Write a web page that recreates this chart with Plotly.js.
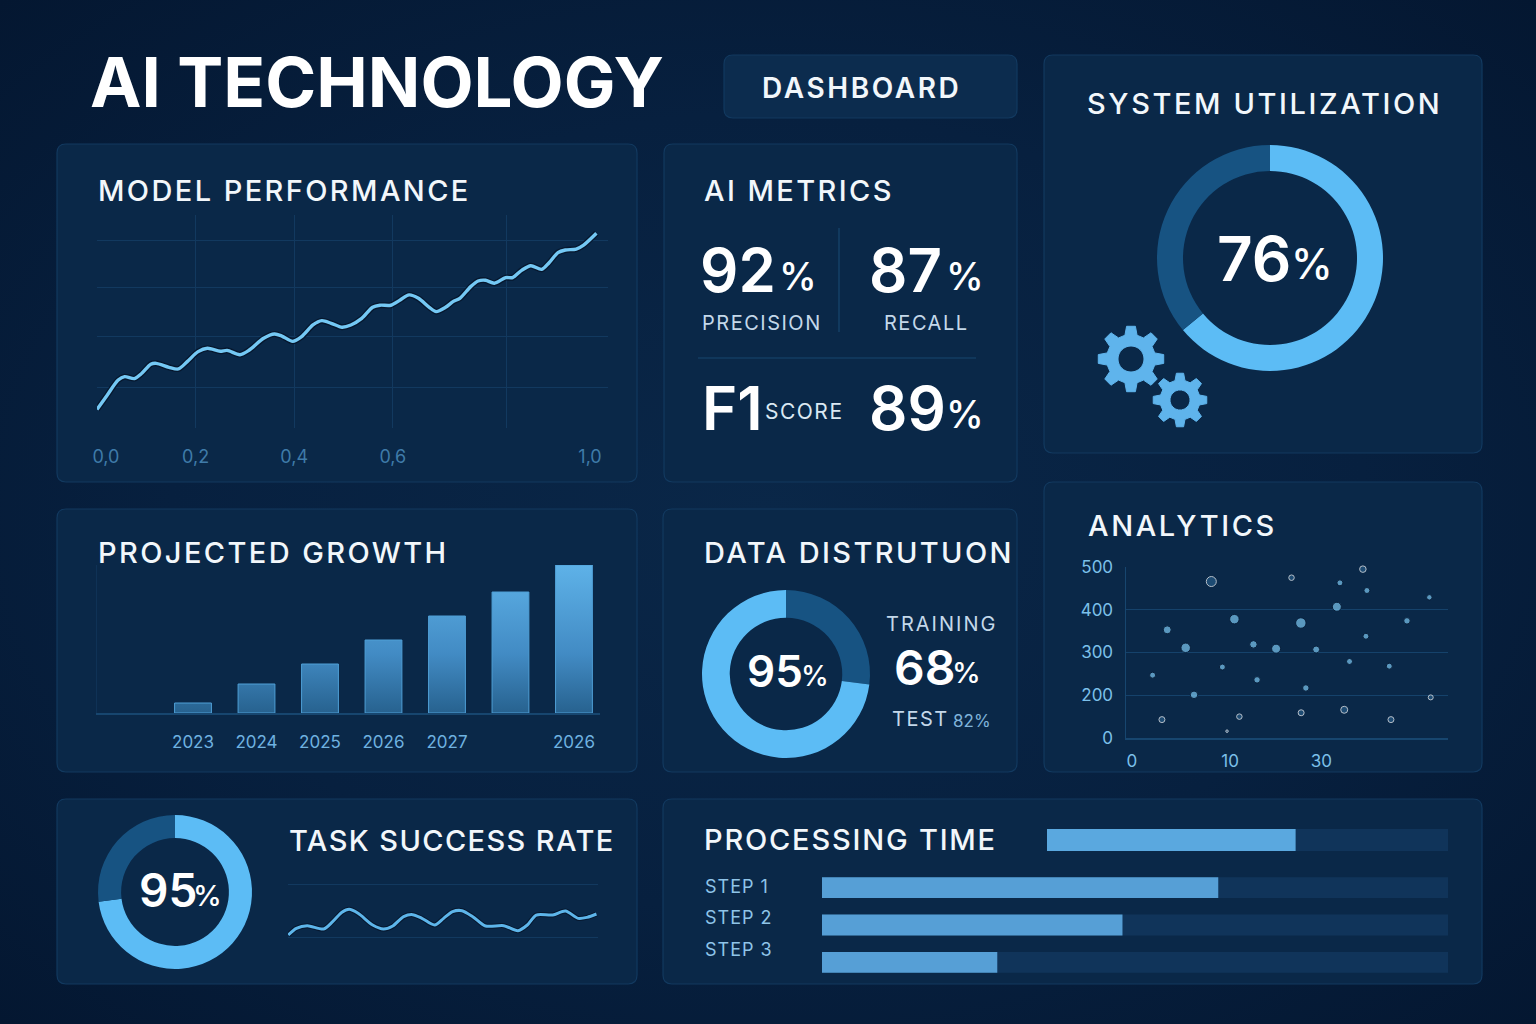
<!DOCTYPE html>
<html><head><meta charset="utf-8">
<script src="https://cdn.plot.ly/plotly-3.0.1.min.js"></script>
<style>
html,body{margin:0;padding:0;width:1536px;height:1024px;overflow:hidden;background:#051a36}
body{background:radial-gradient(ellipse at 50% 50%,#0a2748 0%,#07203f 55%,#041731 100%)}
#chart{width:1536px;height:1024px}
</style></head><body><div id="chart"></div>
<script>
// ---------- data ----------
const perfX=[0,.021,.043,.056,.076,.091,.109,.12,.146,.165,.183,.205,.224,.25,.264,.29,.309,.338,.36,.375,.397,.415,.438,.456,.475,.497,.515,.537,.559,.574,.596,.615,.633,.652,.674,.688,.707,.722,.736,.758,.773,.788,.806,.829,.843,.862,.88,.902,.917,.935,.95,.972,.987,1.013];
const perfY=[.099,.176,.255,.273,.263,.291,.339,.344,.323,.314,.353,.406,.424,.408,.413,.39,.415,.477,.5,.489,.461,.486,.548,.571,.557,.536,.548,.583,.642,.653,.653,.681,.708,.69,.642,.619,.642,.672,.69,.752,.782,.786,.77,.8,.8,.84,.863,.844,.879,.933,.947,.952,.973,1.036];
const perfTickVals=[.018,.2,.4,.6,1];
const perfTickText=['0,0','0,2','0,4','0,6','1,0'];
const perfGridX=[0,.2,.4,.6,.83];
const perfGridY=[0,.213,.489,.745,1];

const growthX=[0,1,2,3,4,5,6];
const growthY=[10,29,49,73,97,121,148];
const growthTicks=['2023','2024','2025','2026','2027','','2026'];

const brightX=[2.11,3.6,5.48,6.33,9.22,10.44,12.38,12.75,14.69,17.21,17.72,18.77,20.88,21.19,22.17,23.84,23.94,26.22,28.02,30.3];
const brightY=[247,353,311,201,266,378,319,236,309,369,217,307,407,463,279,338,445,268,374,429];
const brightR=[6,8,9.5,7.5,6,9.5,7.5,6.5,9,10.5,6.5,7,9,6,6,6,6,6,6.5,5.5];
const dimX=[8.09,3.06,10.95,16.26,17.24,21.63,23.53,26.39,30.44,18.98,18.16,9.69];
const dimY=[466,143,150,475,159,166,495,143,195,572,575,116];
const dimR=[10,6,5.5,5.5,6,7,6.5,6,5,5,3.5,2.5];
const scatterYTicks=[500,400,300,200,100];
const scatterYText=['500','400','300','200','0'];
const scatterXTicks=[0,10,19.3];
const scatterXText=['0','10','30'];

const taskX=[.1,2.7,6.2,11.5,14.4,17.4,19.7,22.6,27.3,30.8,33.8,37.3,40.2,43.2,47.3,50.2,53.1,56.1,59.6,63.7,69.6,74.2,77.2,80.1,85.4,89.5,93.6,96.5,99.5];
const taskY=[3.8,16.4,21.4,15.1,28.9,46.6,52.2,44.7,22.7,15.1,20.8,38.4,42.2,35.2,22.7,35.2,47.8,49.7,38.4,20.8,21.4,12,22.7,41.5,41.5,49.1,35.2,37.1,43.4];

const stepNames=['STEP 1','STEP 2','STEP 3'];
const stepVals=[63.3,48,28];
const stepTrack=[100,100,100];
const totalVal=[62];
const totalTrack=[100];

const utilVals=[64,36];
const distVals=[27,73];
const successVals=[73,27];

// ---------- helpers ----------
const W=1536,H=1024;
const px=v=>v/W, py=v=>1-v/H;
const dx=(a,b)=>[a/W,b/W], dy=(t,b)=>[1-b/H,1-t/H];
const BRIGHT='#5cbcf5', DARK='#175382', GRID='#12395f', PANEL='#0a2848', EDGE='#12395f';

function panel(x0,y0,x1,y1,fill){
  const r=9;
  const path=`M${px(x0+r)} ${py(y0)} L${px(x1-r)} ${py(y0)} Q${px(x1)} ${py(y0)} ${px(x1)} ${py(y0+r)} L${px(x1)} ${py(y1-r)} Q${px(x1)} ${py(y1)} ${px(x1-r)} ${py(y1)} L${px(x0+r)} ${py(y1)} Q${px(x0)} ${py(y1)} ${px(x0)} ${py(y1-r)} L${px(x0)} ${py(y0+r)} Q${px(x0)} ${py(y0)} ${px(x0+r)} ${py(y0)} Z`;
  return {type:'path',xref:'paper',yref:'paper',path,fillcolor:fill||PANEL,line:{color:EDGE,width:1.2},layer:'below'};
}
function rule(x0,y0,x1,y1){
  return {type:'line',xref:'paper',yref:'paper',x0:px(x0),y0:py(y0),x1:px(x1),y1:py(y1),line:{color:'#17466f',width:1.2},layer:'below'};
}
function gear(cx,cy,rOut,rRoot,rHole,teeth){
  let d='';
  const step=2*Math.PI/teeth;
  for(let i=0;i<teeth;i++){
    const a=i*step-Math.PI/2;
    const pts=[[rRoot,a-step*.32],[rOut,a-step*.17],[rOut,a+step*.17],[rRoot,a+step*.32]];
    pts.forEach((p,j)=>{
      const X=cx+p[0]*Math.cos(p[1]),Y=cy+p[0]*Math.sin(p[1]);
      d+=(i===0&&j===0?'M':'L')+px(X)+' '+py(Y)+' ';
    });
  }
  d+='Z ';
  const n=40;
  for(let i=0;i<n;i++){
    const a=i/n*2*Math.PI;
    d+=(i===0?'M':'L')+px(cx+rHole*Math.cos(a))+' '+py(cy+rHole*Math.sin(a))+' ';
  }
  d+='Z';
  return {type:'path',xref:'paper',yref:'paper',path:d,fillcolor:'#5fb4ec',fillrule:'evenodd',line:{color:'#5fb4ec',width:1},layer:'above'};
}
const spacing=[];
function label(text,x,cy,size,color,weight,sp){
  spacing.push(sp||0);
  return {text,xref:'paper',yref:'paper',x:px(x),y:py(cy),xanchor:'left',yanchor:'middle',align:'left',showarrow:false,
    borderpad:0,font:{family:'Inter, "Noto Sans", sans-serif',size,color:color||'#ffffff',weight:weight||500}};
}
function donut(vals,colors,cx,cy,R,hole){
  return {type:'pie',values:vals,marker:{colors,line:{width:0}},hole,sort:false,direction:'clockwise',rotation:0,
    textinfo:'none',hoverinfo:'skip',showlegend:false,domain:{x:dx(cx-R,cx+R),y:dy(cy-R,cy+R)}};
}

// ---------- traces ----------
const traces=[
  // model performance
  {type:'scatter',mode:'lines',x:perfX,y:perfY,xaxis:'x',yaxis:'y',line:{color:'#06172e',width:6,shape:'spline',smoothing:.8},hoverinfo:'skip',showlegend:false},
  {type:'scatter',mode:'lines',x:perfX,y:perfY,xaxis:'x',yaxis:'y',line:{color:'#74c8f4',width:3.4,shape:'spline',smoothing:.8},hoverinfo:'skip',showlegend:false},
  // projected growth
  {type:'bar',x:growthX,y:growthY,xaxis:'x2',yaxis:'y2',width:.58,marker:{color:'#4f9fd6',line:{color:'#4f9fd6',width:1}},hoverinfo:'skip',showlegend:false},
  // analytics
  {type:'scatter',mode:'markers',x:dimX,y:dimY,xaxis:'x3',yaxis:'y3',cliponaxis:false,marker:{color:'#265a86',size:dimR},hoverinfo:'skip',showlegend:false},
  {type:'scatter',mode:'markers',x:brightX,y:brightY,xaxis:'x3',yaxis:'y3',cliponaxis:false,marker:{color:'#7cc8f2',size:brightR,line:{color:'#061a34',width:1}},hoverinfo:'skip',showlegend:false},
  // task sparkline
  {type:'scatter',mode:'lines',x:taskX,y:taskY,xaxis:'x4',yaxis:'y4',line:{color:'#06172e',width:5,shape:'spline',smoothing:.8},hoverinfo:'skip',showlegend:false},
  {type:'scatter',mode:'lines',x:taskX,y:taskY,xaxis:'x4',yaxis:'y4',line:{color:'#5db5ea',width:3,shape:'spline',smoothing:.8},hoverinfo:'skip',showlegend:false},
  // processing time
  {type:'bar',orientation:'h',x:stepTrack,y:stepNames,xaxis:'x5',yaxis:'y5',width:.56,marker:{color:'#10345a'},hoverinfo:'skip',showlegend:false},
  {type:'bar',orientation:'h',x:stepVals,y:stepNames,xaxis:'x5',yaxis:'y5',width:.56,marker:{color:'#569fd6'},hoverinfo:'skip',showlegend:false},
  {type:'bar',orientation:'h',x:totalTrack,y:['TOTAL'],xaxis:'x6',yaxis:'y6',width:1,marker:{color:'#10345a'},hoverinfo:'skip',showlegend:false},
  {type:'bar',orientation:'h',x:totalVal,y:['TOTAL'],xaxis:'x6',yaxis:'y6',width:1,marker:{color:'#5aa8df'},hoverinfo:'skip',showlegend:false},
  // donuts
  donut(utilVals,[BRIGHT,DARK],1270,258,113,.77),
  donut(distVals,[DARK,BRIGHT],786,674,84,.67),
  donut(successVals,[BRIGHT,DARK],175,892,77,.7)
];

// ---------- layout ----------
const tickFont=(size,color)=>({family:'Inter, "Noto Sans", sans-serif',size,color});
const off={showgrid:false,zeroline:false,showticklabels:false,ticks:'',showline:false,fixedrange:true};
const layout={
  width:W,height:H,margin:{l:0,r:0,t:0,b:0,pad:0},autosize:false,
  paper_bgcolor:'rgba(0,0,0,0)',plot_bgcolor:'rgba(0,0,0,0)',barmode:'overlay',showlegend:false,
  xaxis:{domain:dx(97,608),range:[0,1.0365],anchor:'y',tickmode:'array',tickvals:perfTickVals,ticktext:perfTickText,showgrid:false,zeroline:false,
    ticks:'outside',ticklen:12,tickcolor:'rgba(0,0,0,0)',tickfont:tickFont(18,'#3f7ba9'),
    minor:{tickmode:'array',tickvals:perfGridX,showgrid:true,gridcolor:GRID,gridwidth:1,ticks:''}},
  yaxis:{domain:dy(215,428),range:[0,1.133],anchor:'x',tickmode:'array',tickvals:perfGridY,ticktext:perfGridY.map(()=>''),showgrid:true,gridcolor:GRID,gridwidth:1,zeroline:false,ticks:''},
  xaxis2:{domain:dx(97,600),range:[-1.512,6.41],anchor:'y2',tickmode:'array',tickvals:growthX,ticktext:growthTicks,showgrid:false,zeroline:false,showline:true,linecolor:'#17466f',linewidth:1.5,
    ticks:'outside',ticklen:13,tickcolor:'rgba(0,0,0,0)',tickfont:tickFont(17,'#6fb2e0')},
  yaxis2:{domain:dy(565,713),range:[0,148],anchor:'x2',showticklabels:false,showgrid:false,zeroline:false,ticks:'',showline:true,linecolor:'#0f3256',linewidth:1},
  xaxis3:{domain:dx(1126,1448),range:[-.6,32.2],anchor:'y3',tickmode:'array',tickvals:scatterXTicks,ticktext:scatterXText,showgrid:false,zeroline:false,showline:true,linecolor:'#17466f',linewidth:1.5,
    ticks:'outside',ticklen:7,tickcolor:'rgba(0,0,0,0)',tickfont:tickFont(17,'#7cc0ea')},
  yaxis3:{domain:dy(567,738),range:[100,500],anchor:'x3',tickmode:'array',tickvals:scatterYTicks,ticktext:scatterYText,showgrid:true,gridcolor:'#15426b',gridwidth:1,zeroline:false,showline:true,linecolor:'#17466f',linewidth:1.5,
    ticks:'outside',ticklen:8,tickcolor:'rgba(0,0,0,0)',tickfont:tickFont(17,'#7cc0ea')},
  xaxis4:{...off,domain:dx(288,598),range:[0,100],anchor:'y4'},
  yaxis4:{domain:dy(870,950),range:[-24.5,126.4],anchor:'x4',tickmode:'array',tickvals:[0,100],ticktext:['',''],showgrid:true,gridcolor:GRID,gridwidth:1,zeroline:false,ticks:''},
  xaxis5:{...off,domain:dx(822,1448),range:[0,100],anchor:'y5'},
  yaxis5:{...off,domain:dy(869,981),autorange:false,range:[2.5,-.5],type:'category',categoryorder:'array',categoryarray:stepNames,anchor:'x5'},
  xaxis6:{...off,domain:dx(1047,1448),range:[0,100],anchor:'y6'},
  yaxis6:{...off,domain:dy(829,851),range:[-.5,.5],type:'category',anchor:'x6'},
  shapes:[
    panel(724,55,1017,118,'#0c2c4e'),
    panel(1044,55,1482,453),
    panel(57,144,637,482),
    panel(664,144,1017,482),
    panel(57,509,637,772),
    panel(663,509,1017,772),
    panel(1044,482,1482,772),
    panel(57,799,637,984),
    panel(663,799,1482,984),
    rule(839,228,839,332),
    rule(698,358,976,358),
    gear(1131,359,33,24.5,13,8),
    gear(1180,400,27,20,10,8)
  ],
  annotations:[
    label('AI TECHNOLOGY',89,82,69,'#ffffff',700,0),
    label('DASHBOARD',761,88,28,'#f2f7fb',600,2.6),
    label('SYSTEM UTILIZATION',1086,103,29,'#f2f7fb',500,2.6),
    label('MODEL PERFORMANCE',97,190,29,'#f2f7fb',500,2.4),
    label('AI METRICS',703,190,29,'#f2f7fb',500,2.4),
    label('PROJECTED GROWTH',97,552,29,'#f2f7fb',500,2.4),
    label('DATA DISTRUTUON',703,552,29,'#f2f7fb',500,2.4),
    label('ANALYTICS',1087,525,29,'#f2f7fb',500,2.6),
    label('TASK SUCCESS RATE',288,840,29,'#f2f7fb',500,1.4),
    label('PROCESSING TIME',703,839,29,'#f2f7fb',500,1.8),
    label('92',699,270,60,'#ffffff',600,0),
    label('%',778,276,38,'#ffffff',500,0),
    label('87',868,270,60,'#ffffff',600,0),
    label('%',945,276,38,'#ffffff',500,0),
    label('PRECISION',701,323,20,'#c4d8ea',400,1.5),
    label('RECALL',883,323,20,'#c4d8ea',400,1.5),
    label('F1',701,408,60,'#ffffff',600,0),
    label('SCORE',764,411,21,'#dbe8f3',400,1.5),
    label('89',868,408,60,'#ffffff',600,0),
    label('%',945,414,38,'#ffffff',500,0),
    label('76',1216,258,62,'#ffffff',600,0),
    label('%',1290,263,42,'#ffffff',500,0),
    label('95',746,671,44,'#ffffff',600,0),
    label('%',800,676,28,'#ffffff',500,0),
    label('TRAINING',885,624,20,'#c4d8ea',400,2),
    label('68',893,667,48,'#ffffff',600,0),
    label('%',951,672,29,'#ffffff',500,0),
    label('TEST',891,719,20,'#c4d8ea',400,1.5),
    label('82%',952,721,17,'#7fb3da',400,0),
    label('95',138,890,46,'#ffffff',600,0),
    label('%',192,895,29,'#ffffff',500,0),
    label(stepNames[0],704,886,18,'#8fc4e8',400,1),
    label(stepNames[1],704,917,18,'#8fc4e8',400,1),
    label(stepNames[2],704,949,18,'#8fc4e8',400,1)
  ]
};

Plotly.newPlot('chart',traces,layout,{displayModeBar:false,staticPlot:true}).then(gd=>{
  // letter spacing on titles
  gd.querySelectorAll('.annotation').forEach(a=>{
    const i=+a.getAttribute('data-index');
    const t=a.querySelector('text');
    if(t&&spacing[i]) t.style.letterSpacing=spacing[i]+'px';
  });
  // vertical gradient shared by all growth bars
  const svg=gd.querySelector('.main-svg');
  const ns='http://www.w3.org/2000/svg';
  const defs=svg.querySelector('defs')||svg.insertBefore(document.createElementNS(ns,'defs'),svg.firstChild);
  const g=document.createElementNS(ns,'linearGradient');
  g.setAttribute('id','growthGrad');g.setAttribute('gradientUnits','userSpaceOnUse');
  g.setAttribute('x1','0');g.setAttribute('x2','0');g.setAttribute('y1','0');g.setAttribute('y2','148');
  [['0','#5eb2e8'],['0.6','#428bc4'],['1','#27628f']].forEach(s=>{
    const st=document.createElementNS(ns,'stop');st.setAttribute('offset',s[0]);st.setAttribute('stop-color',s[1]);g.appendChild(st);
  });
  defs.appendChild(g);
  gd.querySelectorAll('.subplot.x2y2 .bars .point path').forEach(p=>{p.style.fill='url(#growthGrad)';});
});
</script></body></html>
